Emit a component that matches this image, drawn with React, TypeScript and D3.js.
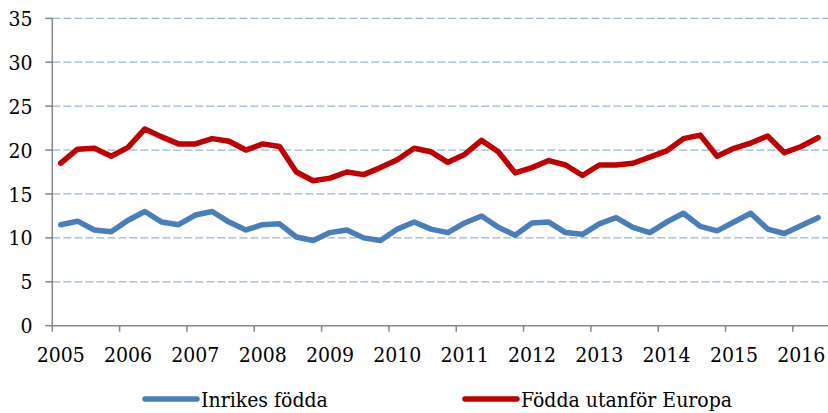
import React from "react";
import * as d3 from "d3";

const years = ["2005","2006","2007","2008","2009","2010","2011","2012","2013","2014","2015","2016"];
const yTicks = [0, 5, 10, 15, 20, 25, 30, 35];
const seriesNames = ["Inrikes födda", "Födda utanför Europa"];
const inrikes = [11.5,11.9,10.9,10.7,12.0,13.0,11.8,11.5,12.6,13.0,11.8,10.9,11.5,11.6,10.1,9.7,10.6,10.9,10.0,9.7,11.0,11.8,11.0,10.6,11.7,12.5,11.2,10.3,11.7,11.8,10.6,10.4,11.6,12.3,11.2,10.6,11.8,12.8,11.3,10.8,11.8,12.8,11.0,10.5,11.4,12.3];
const utanfor = [18.5,20.1,20.2,19.3,20.3,22.4,21.5,20.7,20.7,21.3,21.0,20.0,20.7,20.4,17.5,16.5,16.8,17.5,17.2,18.0,18.9,20.2,19.8,18.6,19.5,21.1,19.8,17.4,18.0,18.8,18.3,17.1,18.3,18.3,18.5,19.2,19.9,21.3,21.7,19.3,20.2,20.8,21.6,19.7,20.4,21.4];
const colors = ["#4A7EBB", "#C00000"];

const W = 828, H = 413;
const left = 52.3, right = 826.5, top = 18.3, bottom = 325.7;

export default function App() {
  const n = inrikes.length;
  const x = d3.scaleBand<number>().domain(d3.range(n)).range([left, right]).paddingInner(0).paddingOuter(0);
  const y = d3.scaleLinear().domain([0, 35]).range([bottom, top]);
  const bw = x.bandwidth();
  const cx = (i: number) => (x(i) as number) + bw / 2;
  const line = d3.line<number>().x((_, i) => cx(i)).y((d) => y(d));
  const txt = { fontFamily: '"DejaVu Serif Condensed", "DejaVu Serif", serif', fontStretch: "condensed", fontSize: "21px", fill: "#000" };
  return (
    <svg width={W} height={H} style={{ position: "absolute", left: 0, top: 0, background: "#fff" }}>
      {yTicks.filter((t) => t > 0).map((t) => (
        <line key={"g" + t} x1={left} x2={W} y1={y(t)} y2={y(t)} stroke="#95B3D7" strokeWidth={1.3} strokeDasharray="8,3" />
      ))}
      <line x1={left} x2={left} y1={top} y2={bottom} stroke="#868686" strokeWidth={1.5} />
      <line x1={left} x2={W} y1={bottom} y2={bottom} stroke="#868686" strokeWidth={1.5} />
      {yTicks.map((t) => (
        <g key={"yt" + t}>
          <line x1={left - 7} x2={left} y1={y(t)} y2={y(t)} stroke="#868686" strokeWidth={1.5} />
          <text x={32.5} y={y(t) + 7.6} textAnchor="end" style={txt}>{t}</text>
        </g>
      ))}
      {years.map((yr, k) => {
        const i = k * 4;
        const tx = x(i) as number;
        return (
          <g key={yr}>
            <line x1={tx} x2={tx} y1={bottom} y2={bottom + 6} stroke="#868686" strokeWidth={1.5} />
            <text x={cx(i)} y={bottom + 36} textAnchor="middle" style={txt}>{yr}</text>
          </g>
        );
      })}
      <path d={line(inrikes) || ""} fill="none" stroke={colors[0]} strokeWidth={5.5} strokeLinejoin="round" strokeLinecap="round" />
      <path d={line(utanfor) || ""} fill="none" stroke={colors[1]} strokeWidth={5.5} strokeLinejoin="round" strokeLinecap="round" />
      {seriesNames.map((s, k) => {
        const lx = k === 0 ? 145 : 465;
        return (
          <g key={s}>
            <line x1={lx} x2={lx + 52} y1={399} y2={399} stroke={colors[k]} strokeWidth={5.5} strokeLinecap="round" />
            <text x={lx + 56} y={406.5} style={txt}>{s}</text>
          </g>
        );
      })}
    </svg>
  );
}
